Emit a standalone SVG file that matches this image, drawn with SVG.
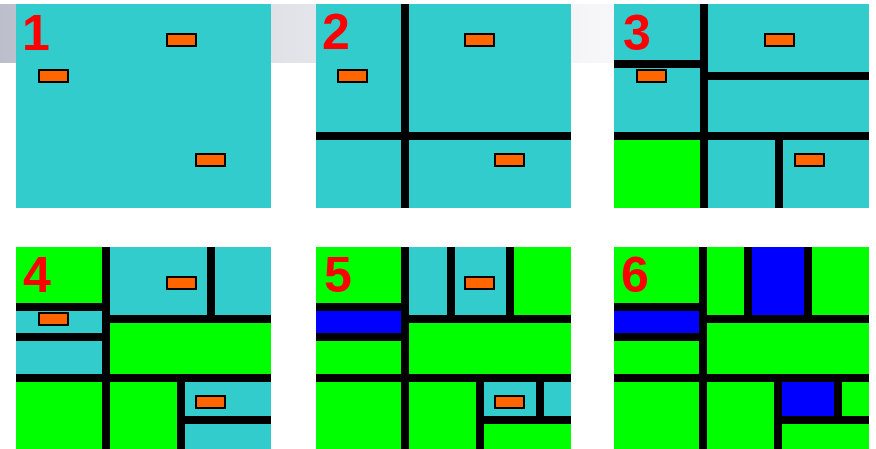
<svg xmlns="http://www.w3.org/2000/svg" width="876" height="449" viewBox="0 0 876 449">
<defs>
<linearGradient id="band" x1="0" y1="0" x2="876" y2="0" gradientUnits="userSpaceOnUse">
<stop offset="0" stop-color="#bdbecc"/>
<stop offset="0.33" stop-color="#e2e2e9"/>
<stop offset="0.68" stop-color="#f6f6f9"/>
<stop offset="1" stop-color="#ffffff"/>
</linearGradient>
<clipPath id="clip"><rect x="0" y="0" width="255" height="204"/></clipPath>
</defs>
<style>
.c{fill:#33cccc}
.g{fill:#00ff00}
.b{fill:#0000ff}
.k{fill:#000000}
.o{fill:#ff6600;stroke:#000000;stroke-width:2}
.n{font-family:"Liberation Sans",Arial,sans-serif;font-weight:bold;font-size:50px;fill:#ff0000}
</style>
<rect x="0" y="0" width="876" height="449" fill="#ffffff"/>
<rect x="0" y="4" width="876" height="59" fill="url(#band)"/>

<g id="panel1" transform="translate(16,4)">
<rect class="c" x="0" y="0" width="255" height="204"/>
<rect class="o" x="151" y="30" width="29" height="12"/>
<rect class="o" x="23" y="66" width="29" height="12"/>
<rect class="o" x="180" y="150" width="29" height="12"/>
<text class="n" x="6" y="46">1</text>
</g>

<g id="panel2" transform="translate(316,4)">
<rect class="c" x="0" y="0" width="255" height="204"/>
<rect class="k" x="85" y="0" width="8" height="204"/>
<rect class="k" x="0" y="128" width="255" height="8"/>
<rect class="o" x="149" y="30" width="29" height="12"/>
<rect class="o" x="22" y="66" width="29" height="12"/>
<rect class="o" x="179" y="150" width="29" height="12"/>
<text class="n" x="6" y="45">2</text>
</g>

<g id="panel3" transform="translate(614,4)">
<rect class="c" x="0" y="0" width="255" height="204"/>
<rect class="g" x="0" y="136" width="86" height="68"/>
<rect class="k" x="86" y="0" width="8" height="204"/>
<rect class="k" x="0" y="128" width="255" height="8"/>
<rect class="k" x="0" y="56" width="90" height="8"/>
<rect class="k" x="90" y="68" width="165" height="8"/>
<rect class="k" x="161" y="132" width="8" height="72"/>
<rect class="o" x="151" y="30" width="29" height="12"/>
<rect class="o" x="23" y="66" width="29" height="12"/>
<rect class="o" x="181" y="150" width="29" height="12"/>
<text class="n" x="9" y="46">3</text>
</g>

<g id="panel4" transform="translate(16,247)">
<g clip-path="url(#clip)">
<rect class="g" x="0" y="0" width="255" height="204"/>
<rect class="c" x="0" y="60" width="90" height="70"/>
<rect class="c" x="90" y="0" width="165" height="72"/>
<rect class="c" x="165" y="132" width="90" height="72"/>
<rect class="k" x="86" y="0" width="8" height="204"/>
<rect class="k" x="0" y="127" width="255" height="8"/>
<rect class="k" x="0" y="56" width="90" height="8"/>
<rect class="k" x="0" y="86" width="90" height="8"/>
<rect class="k" x="90" y="68" width="165" height="8"/>
<rect class="k" x="191" y="0" width="8" height="72"/>
<rect class="k" x="161" y="131" width="8" height="73"/>
<rect class="k" x="165" y="169" width="90" height="8"/>
<rect class="o" x="151" y="30" width="29" height="12"/>
<rect class="o" x="23" y="66" width="29" height="12"/>
<rect class="o" x="180" y="149" width="29" height="12"/>
<text class="n" x="7" y="45">4</text>
</g>
</g>

<g id="panel5" transform="translate(316,247)">
<g clip-path="url(#clip)">
<rect class="g" x="0" y="0" width="255" height="204"/>
<rect class="b" x="0" y="60" width="90" height="30"/>
<rect class="c" x="90" y="0" width="104" height="72"/>
<rect class="c" x="165" y="132" width="90" height="41"/>
<rect class="k" x="85" y="0" width="8" height="204"/>
<rect class="k" x="0" y="127" width="255" height="8"/>
<rect class="k" x="0" y="56" width="90" height="8"/>
<rect class="k" x="0" y="86" width="90" height="8"/>
<rect class="k" x="90" y="68" width="165" height="8"/>
<rect class="k" x="131" y="0" width="8" height="72"/>
<rect class="k" x="190" y="0" width="8" height="72"/>
<rect class="k" x="160" y="131" width="8" height="73"/>
<rect class="k" x="220" y="131" width="8" height="42"/>
<rect class="k" x="164" y="169" width="91" height="8"/>
<rect class="o" x="149" y="30" width="29" height="12"/>
<rect class="o" x="179" y="149" width="29" height="12"/>
<text class="n" x="8" y="45">5</text>
</g>
</g>

<g id="panel6" transform="translate(614,247)">
<g clip-path="url(#clip)">
<rect class="g" x="0" y="0" width="255" height="204"/>
<rect class="b" x="0" y="60" width="90" height="30"/>
<rect class="b" x="134" y="0" width="60" height="72"/>
<rect class="b" x="164" y="131" width="60" height="42"/>
<rect class="k" x="85" y="0" width="8" height="204"/>
<rect class="k" x="0" y="127" width="255" height="8"/>
<rect class="k" x="0" y="56" width="90" height="8"/>
<rect class="k" x="0" y="86" width="90" height="8"/>
<rect class="k" x="90" y="68" width="165" height="8"/>
<rect class="k" x="130" y="0" width="8" height="72"/>
<rect class="k" x="190" y="0" width="8" height="72"/>
<rect class="k" x="160" y="131" width="8" height="73"/>
<rect class="k" x="220" y="131" width="8" height="42"/>
<rect class="k" x="164" y="169" width="91" height="8"/>
<text class="n" x="7" y="45">6</text>
</g>
</g>
</svg>
